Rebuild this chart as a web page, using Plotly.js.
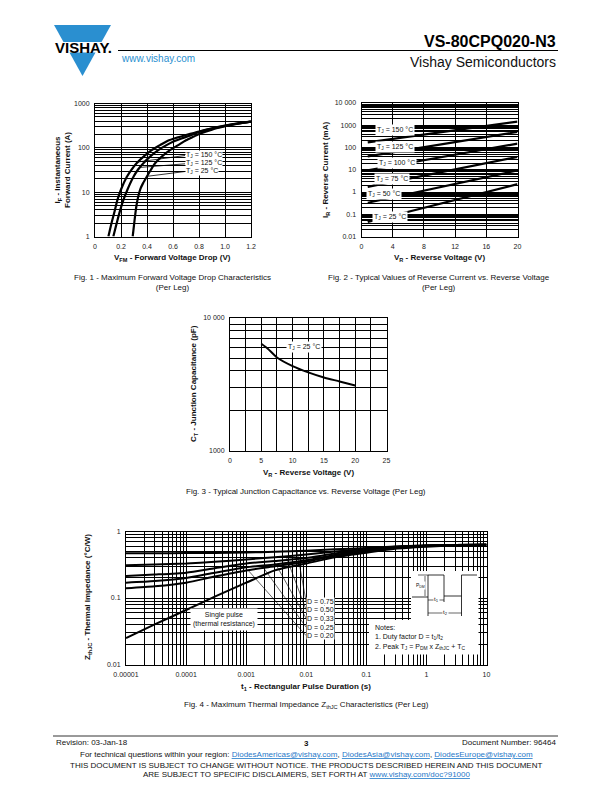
<!DOCTYPE html>
<html><head><meta charset="utf-8">
<script src="https://cdn.plot.ly/plotly-3.0.1.min.js"></script>
<style>html,body{margin:0;padding:0;background:#fff;}#chart{width:612px;height:792px;}</style>
</head><body><div id="chart"></div>
<script>
// ---------------- DATA ----------------
// Fig. 1 - forward voltage drop (V) vs instantaneous forward current (A)
const fig1_v150 = [0.103,0.125,0.15,0.172,0.2,0.244,0.28,0.32,0.38,0.436,0.5,0.56,0.63,0.7,0.8,0.9,1.0,1.1,1.2];
const fig1_i150 = [1,1.9,3.6,6.6,11.5,22,32,45,66,89,115,145,170,195,234,275,316,355,389];
const fig1_v125 = [0.141,0.165,0.19,0.218,0.25,0.295,0.33,0.372,0.43,0.487,0.55,0.6,0.66,0.72,0.8,0.9,1.0,1.1,1.2];
const fig1_i125 = [1,1.9,3.6,6.6,11.5,22,32,45,66,89,115,137,160,185,228,272,314,354,389];
const fig1_v25  = [0.29,0.30,0.31,0.32,0.335,0.35,0.37,0.397,0.43,0.462,0.52,0.577,0.64,0.7,0.76,0.8,0.9,1.0,1.1,1.2];
const fig1_i25  = [1,1.8,3.2,5.2,8.5,12,16,22,32,45,66,89,115,148,180,205,258,306,350,389];
const fig1_xticks = [0,0.2,0.4,0.6,0.8,1.0,1.2];
const fig1_xlabels = ['0','0.2','0.4','0.6','0.8','1.0','1.2'];
const fig1_yticks = [1,10,100,1000];
const fig1_ylabels = ['1','10','100','1000'];

// Fig. 2 - reverse current (mA) vs reverse voltage (V)
const fig2_v = [0.8,10,20];
const fig2_i150 = [170,473,1450];
const fig2_i125 = [40,135,500];
const fig2_i100 = [9.5,36,150];
const fig2_i75  = [1.7,7.5,38];
const fig2_i50  = [0.33,1.64,9.3];
const fig2_i25  = [0.045,0.29,2.25];
const fig2_xticks = [0,4,8,12,16,20];
const fig2_yticks = [0.01,0.1,1,10,100,1000,10000];
const fig2_ylabels = ['0.01','0.1','1','10','100','1000','10 000'];

// Fig. 3 - junction capacitance (pF) vs reverse voltage (V)
const fig3_v = [5,6,7.5,10,12.5,15,17.5,20];
const fig3_c = [6400,5900,5050,4350,3900,3570,3335,3105];
const fig3_xticks = [0,5,10,15,20,25];
const fig3_yticks = [1000,10000];
const fig3_ylabels = ['1000','10 000'];

// Fig. 4 - thermal impedance (°C/W) vs pulse duration (s)
const fig4_t = [0.00001,0.00003,0.0001,0.0003,0.001,0.003,0.01,0.03,0.1,0.3,1,3,10];
const fig4_d075 = [0.47,0.47,0.473,0.477,0.483,0.495,0.515,0.54,0.565,0.595,0.615,0.625,0.63];
const fig4_d050 = [0.31,0.32,0.33,0.35,0.38,0.41,0.45,0.50,0.545,0.59,0.615,0.625,0.63];
const fig4_d033 = [0.215,0.225,0.24,0.28,0.33,0.36,0.40,0.465,0.525,0.585,0.612,0.625,0.63];
const fig4_d025 = [0.17,0.18,0.20,0.24,0.29,0.32,0.37,0.445,0.51,0.58,0.61,0.625,0.63];
const fig4_d020 = [0.14,0.15,0.17,0.21,0.26,0.30,0.35,0.43,0.50,0.575,0.61,0.625,0.63];
const fig4_single = [0.025,0.040,0.066,0.105,0.17,0.26,0.33,0.41,0.48,0.55,0.59,0.615,0.63];
const fig4_xticks = [0.00001,0.0001,0.001,0.01,0.1,1,10];
const fig4_xlabels = ['0.00001','0.0001','0.001','0.01','0.1','1','10'];
const fig4_yticks = [0.01,0.1,1];
const fig4_ylabels = ['0.01','0.1','1'];

// ---------------- LAYOUT HELPERS ----------------
const W = 612, H = 792;
const FONT = 'Liberation Sans, Arial, Helvetica, sans-serif';
const BLUE = '#2a8fd0';
const BOX = {
  f1:{L:95,  R:251,   T:103.5, B:236.5, xr:[0,1.2], yr:[0,3],  xl:false, yl:true},
  f2:{L:361.5,R:517.5,T:103,   B:236.5, xr:[0,20],  yr:[-2,4], xl:false, yl:true},
  f3:{L:230, R:386.5, T:318,   B:451,   xr:[0,25],  yr:[3,4],  xl:false, yl:true},
  f4:{L:126, R:486.5, T:531.5, B:664.5, xr:[-5,1],  yr:[-2,0], xl:true,  yl:true}
};
function P(f,x,y){const b=BOX[f];const tx=b.xl?Math.log10(x):x;const ty=b.yl?Math.log10(y):y;
  return [b.L+(tx-b.xr[0])/(b.xr[1]-b.xr[0])*(b.R-b.L), b.B-(ty-b.yr[0])/(b.yr[1]-b.yr[0])*(b.B-b.T)];}
function interp(xs,ys,x,logx){ // log-y interpolation on the read curve
  for(let i=0;i<xs.length-1;i++){const a=logx?Math.log10(xs[i]):xs[i],b=logx?Math.log10(xs[i+1]):xs[i+1],v=logx?Math.log10(x):x;
    if(v>=a&&v<=b){const f=(v-a)/(b-a);return Math.pow(10,Math.log10(ys[i])+f*(Math.log10(ys[i+1])-Math.log10(ys[i])));}}
  return ys[ys.length-1];}
function minorLog(d0,d1){const a=[];for(let d=d0;d<d1;d++)for(let k=2;k<=9;k++)a.push(k*Math.pow(10,d));return a;}
const annotations=[], shapes=[];
function T(text,X,Y,o){o=o||{};annotations.push(Object.assign({xref:'paper',yref:'paper',x:X/W,y:1-Y/H,text:text,showarrow:false,
  xanchor:'center',yanchor:'middle',font:{family:FONT,size:o.size||7,color:o.color||'#111'}},o.extra||{}));}
function Ln(x0,y0,x1,y1,w,c){shapes.push({type:'line',xref:'paper',yref:'paper',x0:x0/W,y0:1-y0/H,x1:x1/W,y1:1-y1/H,line:{color:c||'#000',width:w||1},layer:'above'});}
function Rect(x0,y0,x1,y1,fill){shapes.push({type:'rect',xref:'paper',yref:'paper',x0:x0/W,y0:1-y0/H,x1:x1/W,y1:1-y1/H,line:{width:0},fillcolor:fill||'#fff',layer:'above'});}
function Path(pts,fill){let s='';pts.forEach((p,i)=>{s+=(i?' L ':'M ')+(p[0]/W)+' '+(1-p[1]/H);});s+=' Z';
  shapes.push({type:'path',xref:'paper',yref:'paper',path:s,fillcolor:fill,line:{width:0},layer:'above'});}

function axis(f,which,extra){const b=BOX[f];
  const base={showline:true,mirror:true,linecolor:'#000',linewidth:1,showgrid:true,gridcolor:'#000',gridwidth:1,zeroline:false,
    ticks:'',tickfont:{family:FONT,size:7,color:'#222'},ticklabelstandoff:3,fixedrange:true,automargin:false};
  if(which==='x'){base.domain=[b.L/W,b.R/W];}else{base.domain=[1-b.B/H,1-b.T/H];}
  return Object.assign(base,extra);}

// ---------------- TRACES ----------------
const lineStyle=(w)=>({color:'#000',width:w,shape:'spline',smoothing:0.6});
const traces=[
  {x:fig1_v150,y:fig1_i150,xaxis:'x',yaxis:'y',mode:'lines',line:lineStyle(2.2)},
  {x:fig1_v125,y:fig1_i125,xaxis:'x',yaxis:'y',mode:'lines',line:lineStyle(2.2)},
  {x:fig1_v25, y:fig1_i25, xaxis:'x',yaxis:'y',mode:'lines',line:lineStyle(2.2)},
  {x:fig2_v,y:fig2_i150,xaxis:'x2',yaxis:'y2',mode:'lines',line:{color:'#000',width:2.2}},
  {x:fig2_v,y:fig2_i125,xaxis:'x2',yaxis:'y2',mode:'lines',line:{color:'#000',width:2.2}},
  {x:fig2_v,y:fig2_i100,xaxis:'x2',yaxis:'y2',mode:'lines',line:{color:'#000',width:2.2}},
  {x:fig2_v,y:fig2_i75, xaxis:'x2',yaxis:'y2',mode:'lines',line:{color:'#000',width:2.2}},
  {x:fig2_v,y:fig2_i50, xaxis:'x2',yaxis:'y2',mode:'lines',line:{color:'#000',width:2.2}},
  {x:fig2_v,y:fig2_i25, xaxis:'x2',yaxis:'y2',mode:'lines',line:{color:'#000',width:2.2}},
  {x:fig3_v,y:fig3_c,xaxis:'x3',yaxis:'y3',mode:'lines',line:lineStyle(2)},
  {x:fig4_t,y:fig4_d075,xaxis:'x4',yaxis:'y4',mode:'lines',line:lineStyle(2)},
  {x:fig4_t,y:fig4_d050,xaxis:'x4',yaxis:'y4',mode:'lines',line:lineStyle(2)},
  {x:fig4_t,y:fig4_d033,xaxis:'x4',yaxis:'y4',mode:'lines',line:lineStyle(2)},
  {x:fig4_t,y:fig4_d025,xaxis:'x4',yaxis:'y4',mode:'lines',line:lineStyle(2)},
  {x:fig4_t,y:fig4_d020,xaxis:'x4',yaxis:'y4',mode:'lines',line:lineStyle(2)},
  {x:fig4_t,y:fig4_single,xaxis:'x4',yaxis:'y4',mode:'lines',line:lineStyle(2)}
].map(t=>Object.assign(t,{hoverinfo:'skip',showlegend:false}));

// ---------------- DECORATION ----------------
// header
Path([[54,25],[111,25],[101.5,42],[63.5,42]],BLUE);
Path([[69.5,52.5],[95.5,52.5],[82.5,76]],BLUE);
T('<b>VISHAY.</b>',83,47.5,{size:15,color:'#000'});
T('www.vishay.com',119,58.5,{size:10,color:BLUE,extra:{xanchor:'left'}});
T('<b>VS-80CPQ020-N3</b>',558,42,{size:16,color:'#000',extra:{xanchor:'right'}});
Ln(118,50.5,558,50.5,1.2);
T('Vishay Semiconductors',558,62,{size:14,color:'#111',extra:{xanchor:'right'}});

// fig 1 texts
T('<b>I<sub>F</sub> - Instantaneous<br>Forward Current (A)</b>',62,170,{size:8,extra:{textangle:-90}});
T('<b>V<sub>FM</sub> - Forward Voltage Drop (V)</b>',172,258,{size:8});
T('Fig. 1 - Maximum Forward Voltage Drop Characteristics<br>(Per Leg)',172,282,{size:8});
const f1lab=[['T<sub>J</sub> = 150 °C',155,fig1_v150,fig1_i150,0.33],['T<sub>J</sub> = 125 °C',163.3,fig1_v125,fig1_i125,0.345],['T<sub>J</sub> = 25 °C',171,fig1_v25,fig1_i25,0.40]];
f1lab.forEach(l=>{const p=P('f1',l[4],interp(l[2],l[3],l[4],false));Ln(185,l[1]+0.5,p[0],p[1],0.8);
  T(l[0],185,l[1],{size:7,extra:{xanchor:'left',bgcolor:'#fff',borderpad:0}});});

// fig 2 texts
T('<b>I<sub>R</sub> - Reverse Current (mA)</b>',326,170,{size:8,extra:{textangle:-90}});
T('<b>V<sub>R</sub> - Reverse Voltage (V)</b>',439,258,{size:8});
T('Fig. 2 - Typical Values of Reverse Current vs. Reverse Voltage<br>(Per Leg)',439,282,{size:8});
[['T<sub>J</sub> = 150 °C',395,130],['T<sub>J</sub> = 125 °C',395,147],['T<sub>J</sub> = 100 °C',397,163],
 ['T<sub>J</sub> = 75 °C',392,179],['T<sub>J</sub> = 50 °C',384,194],['T<sub>J</sub> = 25 °C',390,217]].forEach(l=>
  T(l[0],l[1],l[2],{size:7,extra:{bgcolor:'#fff',borderpad:1}}));

// fig 3 texts
T('<b>C<sub>T</sub> - Junction Capacitance (pF)</b>',194,384,{size:8,extra:{textangle:-90}});
T('<b>V<sub>R</sub> - Reverse Voltage (V)</b>',308,473,{size:8});
T('Fig. 3 - Typical Junction Capacitance vs. Reverse Voltage (Per Leg)',306,491,{size:8});
T('T<sub>J</sub> = 25 °C',303.5,347,{size:7,extra:{bgcolor:'#fff',borderpad:1}});

// fig 4 texts
T('<b>Z<sub>thJC</sub> - Thermal Impedance (°C/W)</b>',88,597,{size:8,extra:{textangle:-90}});
T('<b>t<sub>1</sub> - Rectangular Pulse Duration (s)</b>',306,687,{size:8});
T('Fig. 4 - Maximum Thermal Impedance Z<sub>thJC</sub> Characteristics (Per Leg)',306,705,{size:8});
const dl=[['D = 0.75',601,fig4_d075,297],['D = 0.50',609.5,fig4_d050,286],['D = 0.33',618,fig4_d033,274],['D = 0.25',627,fig4_d025,262],['D = 0.20',635.5,fig4_d020,248]];
dl.forEach(l=>{const t=Math.pow(10,-5+(l[3]-126)/((486.5-126)/6));const p=P('f4',t,interp(fig4_t,l[2],t,true));
  Ln(p[0],p[1],306,l[1],0.6);T(l[0],306,l[1],{size:7,extra:{xanchor:'left',bgcolor:'#fff',borderpad:0}});});
T('Single pulse<br>(thermal resistance)',224,619.5,{size:7,extra:{bgcolor:'#fff',borderpad:2}});
Rect(411,571,478.5,621); Rect(369,620,478.5,654.5);
T('Notes:',373,627,{size:7,extra:{xanchor:'left'}});
T('1. Duty factor D = t<sub>1</sub>/t<sub>2</sub>',373,637,{size:7,extra:{xanchor:'left'}});
T('2. Peak T<sub>J</sub> = P<sub>DM</sub> x Z<sub>thJC</sub> + T<sub>C</sub>',373,646.5,{size:7,extra:{xanchor:'left'}});
// pulse waveform sketch
Ln(412,597,428,597,0.8); Ln(428,575,428,616,0.8); Ln(428,575,444,575,0.8); Ln(444,575,444,602,0.8);
Ln(444,596,461.5,596,0.8); Ln(461.5,575,461.5,616,0.8); Ln(461.5,575,477,575,0.8);
Ln(418,575,428,575,0.6); Ln(425,576,425,596,0.6);
Ln(428,600,444,600,0.6); Ln(428,613,461.5,613,0.6);
T('P<sub>DM</sub>',420,585,{size:5,extra:{bgcolor:'#fff',borderpad:0}});
T('t<sub>1</sub>',436,599.5,{size:6,extra:{bgcolor:'#fff',borderpad:0}});
T('t<sub>2</sub>',445,612.5,{size:6,extra:{bgcolor:'#fff',borderpad:0}});

// footer
Ln(53,736,558,736,0.8);
T('Revision: 03-Jan-18',54,742.5,{size:8,extra:{xanchor:'left'}});
T('<b>3</b>',306,743,{size:8});
T('Document Number: 96464',558,742.5,{size:8,extra:{xanchor:'right'}});
const LK='<span style="color:#1f78c8;text-decoration:underline">';
T('For technical questions within your region: '+LK+'DiodesAmericas@vishay.com</span>, '+LK+'DiodesAsia@vishay.com</span>, '+LK+'DiodesEurope@vishay.com</span>',306,754,{size:8});
T('THIS DOCUMENT IS SUBJECT TO CHANGE WITHOUT NOTICE. THE PRODUCTS DESCRIBED HEREIN AND THIS DOCUMENT',306,765,{size:8});
T('ARE SUBJECT TO SPECIFIC DISCLAIMERS, SET FORTH AT '+LK+'www.vishay.com/doc?91000</span>',306,774,{size:8});

// ---------------- LAYOUT ----------------
const minorGrid=(vals)=>({tickvals:vals,showgrid:true,gridcolor:'#000',gridwidth:1,ticks:''});
const layout={
  width:W,height:H,autosize:false,margin:{l:0,r:0,t:0,b:0},paper_bgcolor:'#fff',plot_bgcolor:'#fff',showlegend:false,
  font:{family:FONT,color:'#111'},
  xaxis: axis('f1','x',{anchor:'y',range:[0,1.2],tickmode:'array',tickvals:fig1_xticks,ticktext:fig1_xlabels}),
  yaxis: axis('f1','y',{anchor:'x',type:'log',range:[0,3],tickmode:'array',tickvals:fig1_yticks,ticktext:fig1_ylabels,minor:minorGrid(minorLog(0,3))}),
  xaxis2:axis('f2','x',{anchor:'y2',range:[0,20],tickmode:'array',tickvals:fig2_xticks,ticktext:fig2_xticks.map(String)}),
  yaxis2:axis('f2','y',{anchor:'x2',type:'log',range:[-2,4],tickmode:'array',tickvals:fig2_yticks,ticktext:fig2_ylabels,minor:minorGrid(minorLog(-2,4))}),
  xaxis3:axis('f3','x',{anchor:'y3',range:[0,25],tickmode:'array',tickvals:fig3_xticks,ticktext:fig3_xticks.map(String),minor:minorGrid([2.5,7.5,12.5,17.5,22.5])}),
  yaxis3:axis('f3','y',{anchor:'x3',type:'log',range:[3,4],tickmode:'array',tickvals:fig3_yticks,ticktext:fig3_ylabels,minor:minorGrid(minorLog(3,4))}),
  xaxis4:axis('f4','x',{anchor:'y4',type:'log',range:[-5,1],tickmode:'array',tickvals:fig4_xticks,ticktext:fig4_xlabels,minor:minorGrid(minorLog(-5,1))}),
  yaxis4:axis('f4','y',{anchor:'x4',type:'log',range:[-2,0],tickmode:'array',tickvals:fig4_yticks,ticktext:fig4_ylabels,minor:minorGrid(minorLog(-2,0))}),
  annotations:annotations,shapes:shapes
};
Plotly.newPlot('chart',traces,layout,{staticPlot:true,displayModeBar:false});
</script></body></html>
